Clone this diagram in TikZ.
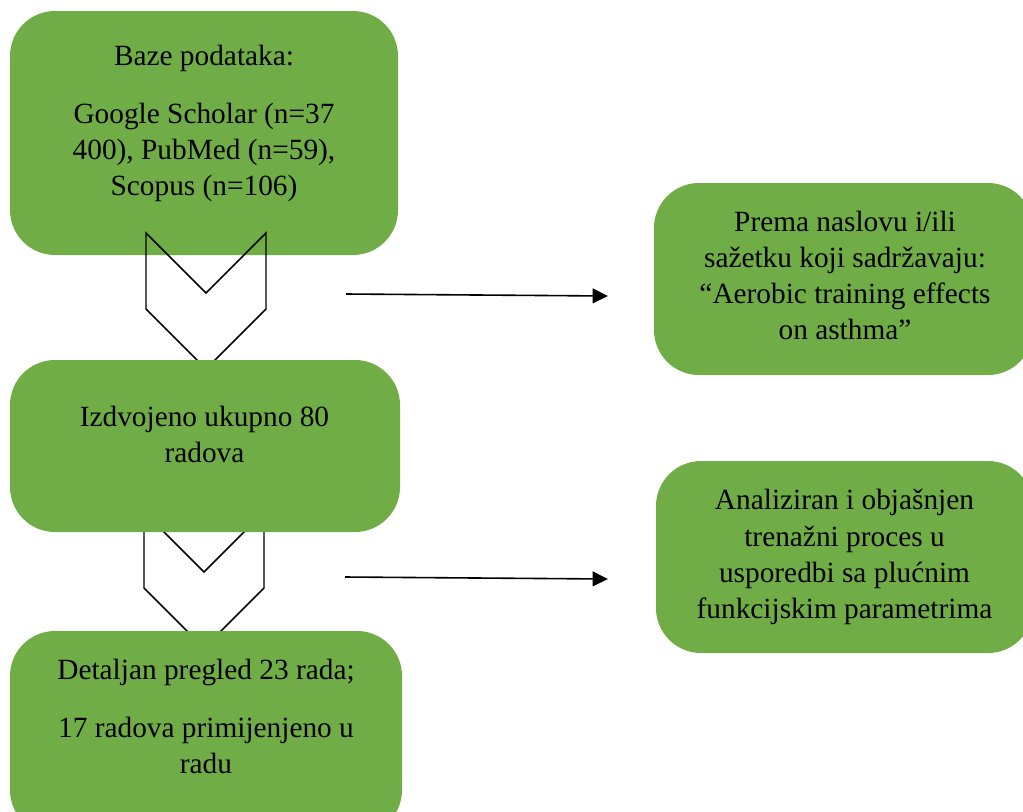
\documentclass[tikz,border=0pt]{standalone}
\usepackage{fontspec}
\setmainfont{Liberation Serif}
\usetikzlibrary{arrows.meta}
\definecolor{boxgreen}{HTML}{70AD47}
\begin{document}
\begin{tikzpicture}[x=0.75pt,y=-0.75pt,
  box/.style={rectangle,fill=boxgreen,draw=none,rounded corners=33.75pt,inner sep=0pt},
  txt/.style={anchor=base,inner sep=0pt,font=\fontsize{22}{27.4}\selectfont},
  chev/.style={draw=black,line width=1.1pt,line join=miter},
  flow/.style={draw=black,line width=1.2pt,-{Triangle[length=11.5pt,width=11pt]}}]
\useasboundingbox (0,0) rectangle (1023,811);
\clip (0,0) rectangle (1023,811);
% box 1
\node[box,minimum width=388*0.75pt,minimum height=244*0.75pt] (b1) at (204,133) {};
% chevrons
\draw[chev] (146,233) -- (206,293) -- (266,233) -- (266,309) -- (206,369) -- (146,309) -- cycle;
\draw[chev] (144,512) -- (204,572) -- (264,512) -- (264,588) -- (204,648) -- (144,588) -- cycle;
% box 3 and 5
\node[box,minimum width=390*0.75pt,minimum height=172*0.75pt] (b3) at (205,446) {};
\node[box,minimum width=392*0.75pt,minimum height=204*0.75pt] (b5) at (206,733) {};
% right boxes
\node[box,minimum width=379*0.75pt,minimum height=192*0.75pt] (b2) at (843.5,279) {};
\node[box,minimum width=377*0.75pt,minimum height=192*0.75pt] (b4) at (844.5,557) {};
% texts
\node[txt] (t1a) at (204,65) {Baze podataka:};
\node[txt] (t1b) at (204,123) {Google Scholar (n=37};
\node[txt] (t1c) at (204,159) {400), PubMed (n=59),};
\node[txt] (t1d) at (204,195) {Scopus (n=106)};
\node[txt] (t3a) at (204.5,426) {Izdvojeno ukupno 80};
\node[txt] (t3b) at (204.5,462) {radova};
\node[txt] (t5a) at (206,679) {Detaljan pregled 23 rada;};
\node[txt] (t5b) at (206,737) {17 radova primijenjeno u};
\node[txt] (t5c) at (206,773) {radu};
\node[txt] (t2a) at (845,231) {Prema naslovu i/ili};
\node[txt] (t2b) at (845,267) {sažetku koji sadržavaju:};
\node[txt] (t2c) at (845,303) {“Aerobic training effects};
\node[txt] (t2d) at (845,339) {on asthma”};
\node[txt] (t4a) at (844.5,509) {Analiziran i objašnjen};
\node[txt] (t4b) at (844.5,546) {trenažni proces u};
\node[txt] (t4c) at (844.5,582) {usporedbi sa plućnim};
\node[txt] (t4d) at (844.5,618) {funkcijskim parametrima};
% arrows
\coordinate (a1s) at (346,294);
\coordinate (a1e) at (608,296);
\coordinate (a2s) at (345,577);
\coordinate (a2e) at (608,579);
\draw[flow] (a1s) -- (a1e);
\draw[flow] (a2s) -- (a2e);
\end{tikzpicture}
\end{document}
